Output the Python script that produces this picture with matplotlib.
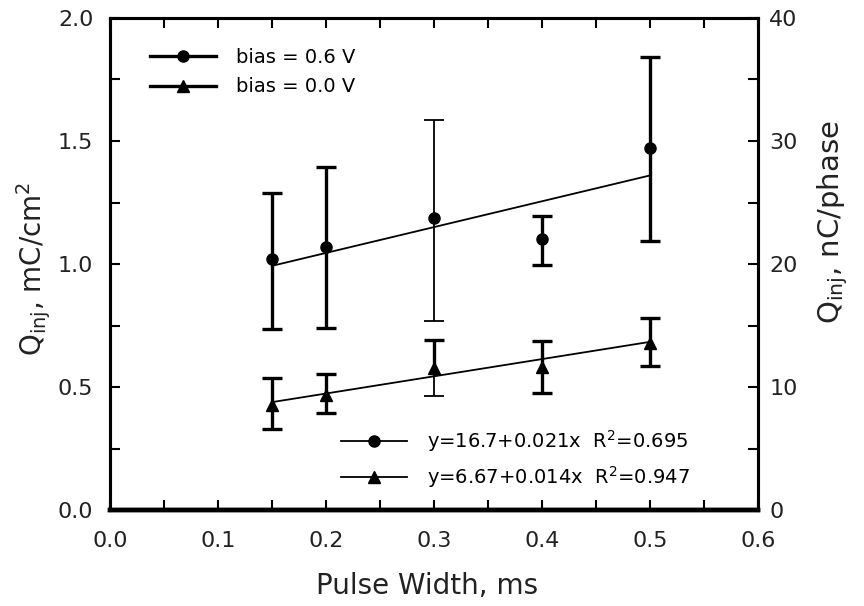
import numpy as np
import matplotlib
matplotlib.use("Agg")
import matplotlib.pyplot as plt
from matplotlib.lines import Line2D
from matplotlib.ticker import MultipleLocator

plt.rcParams['font.family'] = ['DejaVu Sans']
plt.rcParams['mathtext.default'] = 'regular'

# pulse width, ms
pw = [0.15, 0.2, 0.3, 0.4, 0.5]

# bias = 0.6 V (mC/cm^2)
q_06 = [1.02, 1.07, 1.187, 1.10, 1.47]
q_06_lo = [0.735, 0.74, 0.768, 0.996, 1.095]
q_06_hi = [1.29, 1.394, 1.585, 1.195, 1.84]

# bias = 0.0 V (mC/cm^2)
q_00 = [0.427, 0.468, 0.577, 0.58, 0.68]
q_00_lo = [0.33, 0.393, 0.463, 0.475, 0.585]
q_00_hi = [0.537, 0.553, 0.69, 0.687, 0.78]

# linear fits in nC/phase vs pulse width in us
fit_06 = (16.7, 0.021, 0.695)
fit_00 = (6.67, 0.014, 0.947)

fig = plt.figure(figsize=(8.64, 6.06), dpi=100)
ax = fig.add_axes([0.1273, 0.1584, 0.7500, 0.8119])
ax2 = ax.twinx()


def draw_errs(x, y, lo, hi, thin_lo, thin_hi):
    # vertical bar from the point to each end, cap at the ends
    for i in range(len(x)):
        for end, thin in ((lo[i], thin_lo[i]), (hi[i], thin_hi[i])):
            lw = 1.3 if thin else 2.4
            ax.plot([x[i], x[i]], [y[i], end], color='black', lw=lw,
                    solid_capstyle='butt', zorder=2)
            ax.plot([x[i]], [end], marker='_', markersize=14,
                    markeredgewidth=lw, color='black', zorder=2)


draw_errs(pw, q_06, q_06_lo, q_06_hi, [0, 0, 1, 0, 0], [0, 0, 1, 0, 0])
draw_errs(pw, q_00, q_00_lo, q_00_hi, [0, 0, 1, 0, 0], [0, 0, 0, 0, 0])

ax.plot(pw, q_06, 'o', color='black', markersize=8, zorder=3)
ax.plot(pw, q_00, '^', color='black', markersize=8, zorder=3)

xf = np.array([pw[0], pw[-1]])
for a, b, r2 in (fit_06, fit_00):
    ax2.plot(xf, a + b * xf * 1000, color='black', linewidth=1.3)

ax.set_xlim(0, 0.6)
ax.set_ylim(0, 2.0)
ax2.set_ylim(0, 40)
ax.xaxis.set_major_locator(MultipleLocator(0.1))
ax.xaxis.set_minor_locator(MultipleLocator(0.05))
ax.yaxis.set_major_locator(MultipleLocator(0.5))
ax.yaxis.set_minor_locator(MultipleLocator(0.25))
ax2.yaxis.set_major_locator(MultipleLocator(10))
ax2.yaxis.set_minor_locator(MultipleLocator(5))
ax.xaxis.set_major_formatter(plt.FuncFormatter(lambda v, p: f"{v:.1f}"))
ax.yaxis.set_major_formatter(plt.FuncFormatter(lambda v, p: f"{v:.1f}"))

for a in (ax, ax2):
    a.tick_params(which='both', direction='in', length=7, width=1.5,
                  labelsize=16, colors='black', labelcolor='#222222')
ax.tick_params(top=True, which='both', pad=15)
ax.tick_params(axis='y', pad=12)
ax2.tick_params(which='both', pad=8)

for a in (ax, ax2):
    for s in a.spines.values():
        s.set_linewidth(2.2)
    a.spines['bottom'].set_linewidth(3.2)

ax.set_xlabel('Pulse Width, ms', fontsize=20, color='#222222')
ax.xaxis.set_label_coords(0.489, -0.125)
ax.set_ylabel('Q$_{inj}$, mC/cm$^2$', fontsize=20, color='#222222')
ax.yaxis.set_label_coords(-0.088, 0.49)
ax2.set_ylabel('Q$_{inj}$, nC/phase', fontsize=21, color='#222222')
ax2.yaxis.set_label_coords(1.089, 0.585)

h1 = [Line2D([], [], color='black', lw=2.4, marker='o', markersize=8),
      Line2D([], [], color='black', lw=2.4, marker='^', markersize=8)]
leg1 = ax.legend(h1, ['bias = 0.6 V', 'bias = 0.0 V'], loc='upper left',
                 bbox_to_anchor=(0.035, 0.975), frameon=False, fontsize=14,
                 handlelength=3.4, handletextpad=1.0, labelspacing=0.55)
ax.add_artist(leg1)

h2 = [Line2D([], [], color='black', lw=1.3, marker='o', markersize=8),
      Line2D([], [], color='black', lw=1.3, marker='^', markersize=8)]
labels2 = [f"y={a}+{b}x  R$^2$={r2}" for a, b, r2 in (fit_06, fit_00)]
ax.legend(h2, labels2, loc='lower left', bbox_to_anchor=(0.33, 0.005),
          frameon=False, fontsize=14, handlelength=3.4, handletextpad=1.0,
          labelspacing=0.5)

fig.savefig('out.png', dpi=100)
